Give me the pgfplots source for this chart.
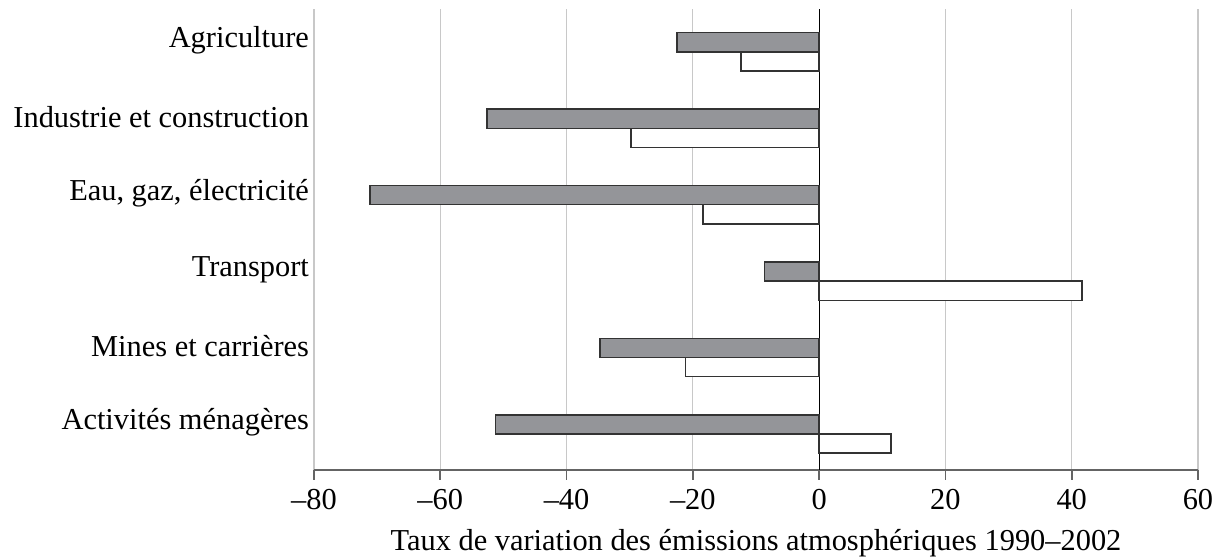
\documentclass[border=0pt]{standalone}
\usepackage{fontspec}
\setmainfont{Liberation Serif}
\usepackage{pgfplots}
\pgfplotsset{compat=1.18}

\definecolor{barGray}{RGB}{148,149,153}
\definecolor{gridGray}{RGB}{200,200,200}
\definecolor{axisGray}{RGB}{100,100,100}

\begin{document}
\begin{tikzpicture}
\begin{axis}[
    scale only axis,
    width=442pt,
    height=230.5pt,
    xmin=-80, xmax=60,
    ymin=-0.47, ymax=5.56,
    xtick={-80,-60,...,60},
    xticklabels={–80,–60,–40,–20,0,20,40,60},
    ytick={0.15,1.15,2.15,3.15,4.15,5.15},
    yticklabels={Activités ménagères,Mines et carrières,Transport,{Eau, gaz, électricité},Industrie et construction,Agriculture},
    y tick style={draw=none},
    axis x line*=bottom,
    axis y line*=left,
    y axis line style={draw=none},
    x axis line style={axisGray, line width=1pt, -},
    x tick style={axisGray, line width=0.8pt},
    tick align=outside,
    major tick length=5pt,
    xmajorgrids=true,
    grid style={gridGray, line width=0.6pt},
    extra x ticks={0},
    extra x tick labels={},
    extra x tick style={major grid style={black, line width=0.6pt}},
    xticklabel style={font=\fontsize{15.2}{18}\selectfont, yshift=-1pt},
    yticklabel style={font=\fontsize{15.2}{18}\selectfont, anchor=east, xshift=6pt},
    xlabel={Taux de variation des émissions atmosphériques 1990–2002},
    xlabel style={font=\fontsize{15.2}{18}\selectfont, yshift=7pt},
    xbar,
    bar width=0.25,
    clip=false,
]
% grey series (above)
\addplot+[xbar, bar shift=0.125, fill=barGray, draw=black!80, line width=0.7pt] coordinates {
    (-51.3,0)
    (-34.7,1)
    (-8.7,2)
    (-71.1,3)
    (-52.6,4)
    (-22.5,5)
};
% white series (below)
\addplot+[xbar, bar shift=-0.125, fill=white, draw=black!80, line width=0.7pt] coordinates {
    (11.4,0)
    (-21.2,1)
    (41.6,2)
    (-18.4,3)
    (-29.8,4)
    (-12.4,5)
};
\end{axis}
\pgfresetboundingbox
\path (current axis.south west) ++(-157pt,-43.5pt) coordinate (bbA);
\path (current axis.north east) ++(14.5pt,4.5pt) coordinate (bbB);
\path (bbA) rectangle (bbB);
\end{tikzpicture}
\end{document}
